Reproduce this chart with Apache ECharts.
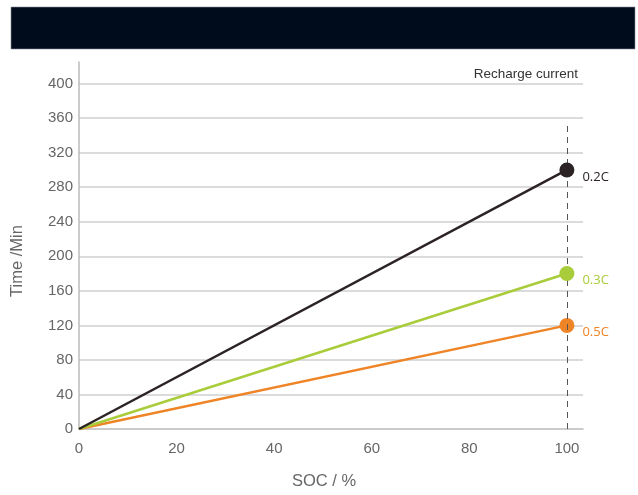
<!DOCTYPE html>
<html>
<head>
<meta charset="utf-8">
<script src="https://cdn.jsdelivr.net/npm/echarts@6/dist/echarts.min.js"></script>
<style>
html,body{margin:0;padding:0;background:#fff;}
#chart{width:638px;height:495px;}
</style>
</head>
<body>
<div id="chart"></div>
<script>
// Data
const seriesNames = ['0.2C', '0.3C', '0.5C'];
const socValues = [0, 100];
const time02C = [0, 300];
const time03C = [0, 180];
const time05C = [0, 120];
const seriesColors = ['#2b2324', '#a8cc3a', '#ef8426'];
const yTicks = [0, 40, 80, 120, 160, 200, 240, 280, 320, 360, 400];
const xTicks = [0, 20, 40, 60, 80, 100];
const dashedLine = [[100, 0], [100, 354]];

const allTimes = [time02C, time03C, time05C];

const chart = echarts.init(document.getElementById('chart'));

const series = allTimes.map((vals, i) => ({
  name: seriesNames[i],
  type: 'line',
  data: socValues.map((x, j) => [x, vals[j]]),
  symbol: 'circle',
  symbolSize: (v) => (v[0] === 100 ? 15 : 0),
  showAllSymbol: true,
  lineStyle: { color: seriesColors[i], width: 2.5 },
  itemStyle: { color: seriesColors[i] },
  label: {
    show: true,
    position: 'right',
    distance: 8,
    offset: [0, 7],
    color: seriesColors[i],
    fontSize: 13,
    fontFamily: 'Open Sans',
    formatter: (p) => (p.value[0] === 100 ? seriesNames[i] : '')
  },
  emphasis: { disabled: true },
  z: 6 - i
}));

series.push({
  type: 'line',
  data: [],
  silent: true,
  markLine: {
    symbol: 'none',
    silent: true,
    label: { show: false },
    lineStyle: { color: '#555', type: [6, 5], width: 1 },
    data: [[{ coord: dashedLine[0] }, { coord: dashedLine[1] }]]
  },
  z: 1
});

chart.setOption({
  animation: false,
  backgroundColor: '#fff',
  graphic: [{
    type: 'rect',
    shape: { x: 11, y: 7, width: 624, height: 42 },
    style: { fill: '#000b1c', stroke: '#8a8f99', lineWidth: 0.6 },
    z: 10
  }],
  title: {
    text: 'Recharge current',
    right: 55,
    top: 62,
    textStyle: { fontSize: 13.5, fontWeight: 'normal', color: '#333', fontFamily: 'Liberation Sans' }
  },
  grid: { left: 79, right: 55, top: 62, bottom: 62, containLabel: false },
  xAxis: {
    type: 'value',
    min: 0,
    max: 103.3,
    interval: 20,
    name: 'SOC / %',
    nameLocation: 'middle',
    nameGap: 44,
    nameTextStyle: { color: '#666', fontSize: 16.5, fontFamily: 'Liberation Sans', padding: [0, 14, 0, 0] },
    axisLine: { show: true, lineStyle: { color: '#bbb', width: 1.5 } },
    axisTick: { show: false },
    axisLabel: {
      color: '#666', fontSize: 15, margin: 12, fontFamily: 'Liberation Sans',
      showMaxLabel: false,
      formatter: (v) => (xTicks.includes(v) ? String(v) : '')
    },
    splitLine: { show: false }
  },
  yAxis: {
    type: 'value',
    min: 0,
    max: 425,
    interval: 40,
    name: 'Time /Min',
    nameLocation: 'middle',
    nameGap: 53,
    nameRotate: 90,
    nameTextStyle: { color: '#666', fontSize: 16.5, fontFamily: 'Liberation Sans', padding: [0, 31, 0, 0] },
    axisLine: { show: true, lineStyle: { color: '#bbb', width: 1.5 } },
    axisTick: { show: false },
    axisLabel: {
      color: '#666', fontSize: 15, margin: 6, fontFamily: 'Liberation Sans',
      showMaxLabel: false,
      formatter: (v) => (yTicks.includes(v) ? String(v) : '')
    },
    splitLine: { show: true, showMinLine: false, showMaxLine: false, lineStyle: { color: '#cfcfcf', width: 1.5 } }
  },
  series: series
});
</script>
</body>
</html>
